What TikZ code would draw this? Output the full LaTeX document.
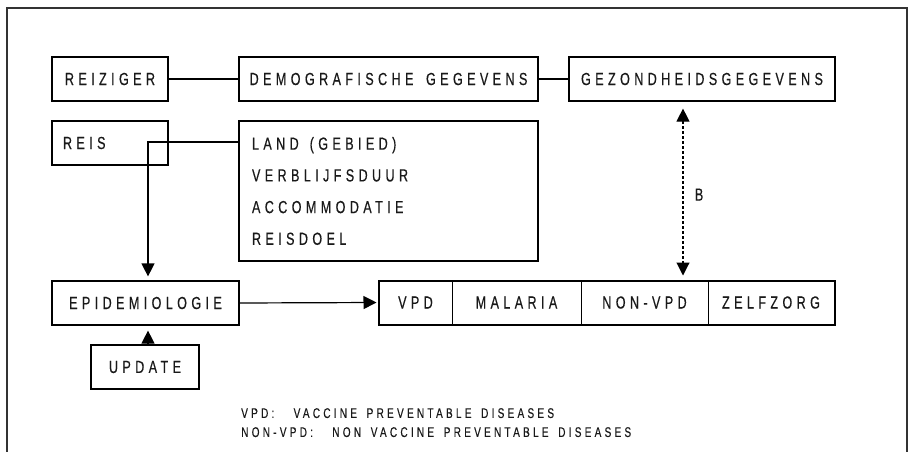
\documentclass[tikz,border=0pt]{standalone}
\usepackage{fontspec}
\setmainfont{Liberation Sans}[FakeStretch=0.72,LetterSpace=25,WordSpace=1.6,FakeBold=0.4]
\newfontfamily\notefont{Liberation Sans}[FakeStretch=0.72,LetterSpace=23,WordSpace=1.6,FakeBold=0.3]
\usetikzlibrary{arrows.meta}

\tikzset{
  box/.style={draw=black, line width=1.2pt, rectangle, inner sep=0pt,
    minimum height=44pt, text=black!90},
  cell/.style={draw=black, line width=1pt, rectangle, inner sep=0pt,
    minimum height=43pt, text=black!90},
  link/.style={draw=black, line width=1.2pt},
  flow/.style={link, -{Triangle[length=13pt,width=13pt]}},
}

\begin{document}
\begin{tikzpicture}[x=1pt, y=-1pt, font=\fontsize{17.5}{20}\selectfont]
\useasboundingbox (0,0) rectangle (914,452);

% open frame around the scheme
\draw[black!80, line width=1.6pt] (7,452) -- (7,8) -- (907,8) -- (907,452);

% top row
\node[box, minimum width=116pt] (reiziger) at (110,79) {REIZIGER};
\node[box, minimum width=299pt] (demo) at (388.5,79) {DEMOGRAFISCHE GEGEVENS};
\node[box, minimum width=266pt] (gezond) at (702,79) {GEZONDHEIDSGEGEVENS};

% travel block
\node[box, minimum width=116pt, text width=94pt, align=left] (reis) at (110,143) {REIS};
\node[box, minimum width=299pt, minimum height=140pt, text width=273pt, align=left,
      font=\fontsize{17.5}{31.7}\selectfont] (land) at (388.5,191)
  {LAND\hspace*{11pt}(GEBIED)\\VERBLIJFSDUUR\\ACCOMMODATIE\\REISDOEL};

% epidemiology and its update
\node[box, minimum width=187pt] (epi) at (145.5,303) {EPIDEMIOLOGIE};
\node[box, minimum width=108pt] (update) at (145,367) {UPDATE};

% advice categories
\node[cell, minimum width=73pt]  (vpd)     at (415.5,302.5) {VPD};
\node[cell, minimum width=129pt] (malaria) at (516.5,302.5) {MALARIA};
\node[cell, minimum width=127pt] (nonvpd)  at (644.5,302.5) {NON-VPD};
\node[cell, minimum width=126pt] (zelf)    at (771,302.5)   {ZELFZORG};
\draw[line width=2pt] (vpd.north west) rectangle (zelf.south east);

% connectors
\coordinate (bend) at (148,142);
\coordinate (bx) at (683,0);
\draw[link] (reiziger.east) -- (demo.west);
\draw[link] (demo.east) -- (gezond.west);
\draw[flow, shorten >=4pt] (land.west |- bend) -- (bend) -- (bend |- epi.north);
\draw[flow, shorten >=5pt] (update.north -| bend) -- (epi.south -| bend);
\draw[flow, shorten >=2pt] (epi.east) -- (vpd.west);
\draw[black, line width=1.1pt, dash pattern=on 3pt off 2pt,
      {Triangle[length=13pt,width=13pt]}-{Triangle[length=13pt,width=13pt]},
      shorten <=7pt, shorten >=5pt]
  (gezond.south -| bx) -- node[pos=0.52, right=8pt, text=black!90] (blabel) {B} (nonvpd.north -| bx);

% legend
\node[anchor=north west, inner sep=0pt, align=left, text=black!90,
      font=\notefont\fontsize{14}{19}\selectfont] (notes) at (241,408)
  {VPD:\ \ VACCINE PREVENTABLE DISEASES\\NON-VPD:\ \ NON VACCINE PREVENTABLE DISEASES};
\end{tikzpicture}
\end{document}
